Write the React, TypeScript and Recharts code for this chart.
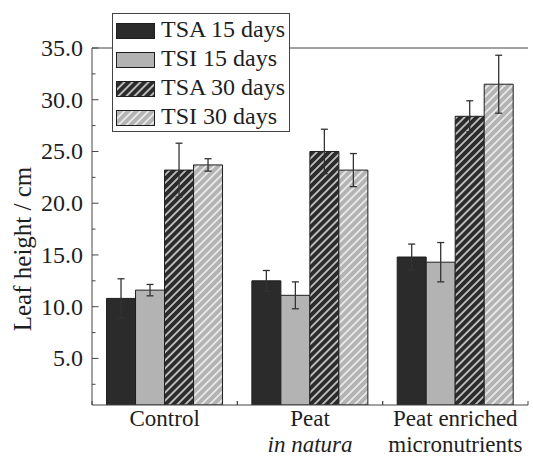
import React from "react";
import {
  Bar,
  BarChart,
  ErrorBar,
  Legend,
  ReferenceLine,
  XAxis,
  YAxis,
} from "recharts";

// Leaf height per substrate, two varieties at 15 and 30 days (mean ± sd).
const categories = ["Control", "Peat", "Peat enriched"];
const subLabels = ["", "in natura", "micronutrients"];

const tsa15 = [10.8, 12.5, 14.8];
const tsa15Err = [1.9, 1.0, 1.25];
const tsi15 = [11.6, 11.1, 14.3];
const tsi15Err = [0.55, 1.3, 1.9];
const tsa30 = [23.2, 25.0, 28.4];
const tsa30Err = [2.6, 2.15, 1.5];
const tsi30 = [23.7, 23.2, 31.5];
const tsi30Err = [0.6, 1.6, 2.8];

const majorTicks = [5, 10, 15, 20, 25, 30, 35];
const minorTicks = [2.5, 7.5, 12.5, 17.5, 22.5, 27.5, 32.5];
const allTicks = [...minorTicks, ...majorTicks].sort((a, b) => a - b);

const W = 533;
const H = 459;
const M = { top: 48, right: 5, left: 0, bottom: 0 };
const Y_W = 92;
const X_H = 54;

const DARK = "#2b2b2b";
const GRAY = "#b3b3b3";
const INK = "#1e1e1e";
const AXIS = "#444";
const FONT = "'Liberation Serif', 'Times New Roman', serif";

const data = categories.map((c, i) => ({
  name: c,
  tsa15: tsa15[i],
  tsa15Err: tsa15Err[i],
  tsi15: tsi15[i],
  tsi15Err: tsi15Err[i],
  tsa30: tsa30[i],
  tsa30Err: tsa30Err[i],
  tsi30: tsi30[i],
  tsi30Err: tsi30Err[i],
}));

const series = [
  { key: "tsa15", name: "TSA 15 days", fill: DARK },
  { key: "tsi15", name: "TSI 15 days", fill: GRAY },
  { key: "tsa30", name: "TSA 30 days", fill: "url(#hatchDark)" },
  { key: "tsi30", name: "TSI 30 days", fill: "url(#hatchGray)" },
];

function Hatch({ id, bg }: { id: string; bg: string }) {
  return (
    <pattern
      id={id}
      patternUnits="userSpaceOnUse"
      width={5.7}
      height={8}
      patternTransform="rotate(45)"
    >
      <rect width={5.7} height={8} fill={bg} />
      <line x1={1} y1={0} x2={1} y2={8} stroke="#fff" strokeWidth={1.3} />
    </pattern>
  );
}

const halfBand = (W - Y_W - M.right) / categories.length / 2;

// category name plus optional second line; boundary ticks point into the plot
function CategoryTick(props: any) {
  const { x, y, payload, index } = props;
  const sub = subLabels[index] ?? "";
  return (
    <g>
      <line x1={x - halfBand} y1={y} x2={x - halfBand} y2={y - 4} stroke={AXIS} />
      <line x1={x + halfBand} y1={y} x2={x + halfBand} y2={y - 4} stroke={AXIS} />
      <text x={x} y={y + 21} textAnchor="middle" fontFamily={FONT} fontSize={23} fill={INK}>
        {payload.value}
      </text>
      {sub && (
        <text
          x={x}
          y={y + 47}
          textAnchor="middle"
          fontFamily={FONT}
          fontSize={23}
          fill={INK}
          fontStyle={sub === "in natura" ? "italic" : "normal"}
        >
          {sub}
        </text>
      )}
    </g>
  );
}

function LeftTick(props: any) {
  const { x, y, payload } = props;
  const major = majorTicks.includes(payload.value);
  return (
    <g>
      <line x1={x} y1={y} x2={x + (major ? 6.5 : 3.5)} y2={y} stroke={AXIS} />
      {major && (
        <text x={x - 9} y={y} dy="0.33em" textAnchor="end" fontFamily={FONT} fontSize={24} fill={INK}>
          {payload.value.toFixed(1)}
        </text>
      )}
    </g>
  );
}

function RightTick(props: any) {
  const { x, y, payload } = props;
  const major = majorTicks.includes(payload.value);
  return <line x1={x} y1={y} x2={x - (major ? 5 : 3)} y2={y} stroke={AXIS} />;
}

function LegendBox() {
  return (
    <div
      style={{
        boxSizing: "border-box",
        width: 178,
        height: 119,
        border: `1px solid ${AXIS}`,
        background: "#fff",
        paddingTop: 2,
        fontFamily: FONT,
        fontSize: 24,
        color: INK,
      }}
    >
      {series.map((s) => (
        <div key={s.key} style={{ display: "flex", alignItems: "center", height: 29 }}>
          <svg width={40} height={16} style={{ marginLeft: 3, marginRight: 5 }}>
            <rect x={0.5} y={0.5} width={38} height={15} fill={s.fill} stroke={INK} />
          </svg>
          <span style={{ lineHeight: "29px", marginTop: -3 }}>{s.name}</span>
        </div>
      ))}
    </div>
  );
}

export default function App() {
  return (
    <div style={{ position: "absolute", left: 0, top: 0, background: "#fff" }}>
      <BarChart width={W} height={H} data={data} margin={M} barCategoryGap="10%" barGap={0}>
        <defs>
          <Hatch id="hatchDark" bg={DARK} />
          <Hatch id="hatchGray" bg={GRAY} />
        </defs>
        <XAxis
          dataKey="name"
          height={X_H}
          stroke={AXIS}
          tickLine={false}
          tickSize={0}
          tickMargin={0}
          interval={0}
          tick={<CategoryTick />}
        />
        <YAxis
          width={Y_W}
          domain={[0.5, 35]}
          ticks={allTicks}
          allowDataOverflow
          stroke={AXIS}
          tickLine={false}
          tickSize={0}
          tickMargin={0}
          tick={<LeftTick />}
          label={{
            content: () => (
              <text
                x={31}
                y={249}
                transform="rotate(-90 31 249)"
                textAnchor="middle"
                fontFamily={FONT}
                fontSize={25}
                fill={INK}
              >
                Leaf height / cm
              </text>
            ),
          }}
        />
        <YAxis
          yAxisId="right"
          orientation="right"
          width={0}
          domain={[0.5, 35]}
          ticks={allTicks}
          allowDataOverflow
          stroke={AXIS}
          tickLine={false}
          tickSize={0}
          tickMargin={0}
          tick={<RightTick />}
        />
        <ReferenceLine y={35} stroke={AXIS} />
        {series.map((s) => (
          <Bar
            key={s.key}
            dataKey={s.key}
            name={s.name}
            fill={s.fill}
            stroke={INK}
            strokeWidth={1}
            isAnimationActive={false}
          >
            <ErrorBar
              dataKey={`${s.key}Err`}
              width={3.5}
              stroke="#333"
              strokeWidth={1.3}
              isAnimationActive={false}
            />
          </Bar>
        ))}
        <Legend
          layout="vertical"
          align="center"
          verticalAlign="middle"
          wrapperStyle={{ left: 112, top: 13, width: 178, height: 119 }}
          content={() => <LegendBox />}
        />
      </BarChart>
    </div>
  );
}
